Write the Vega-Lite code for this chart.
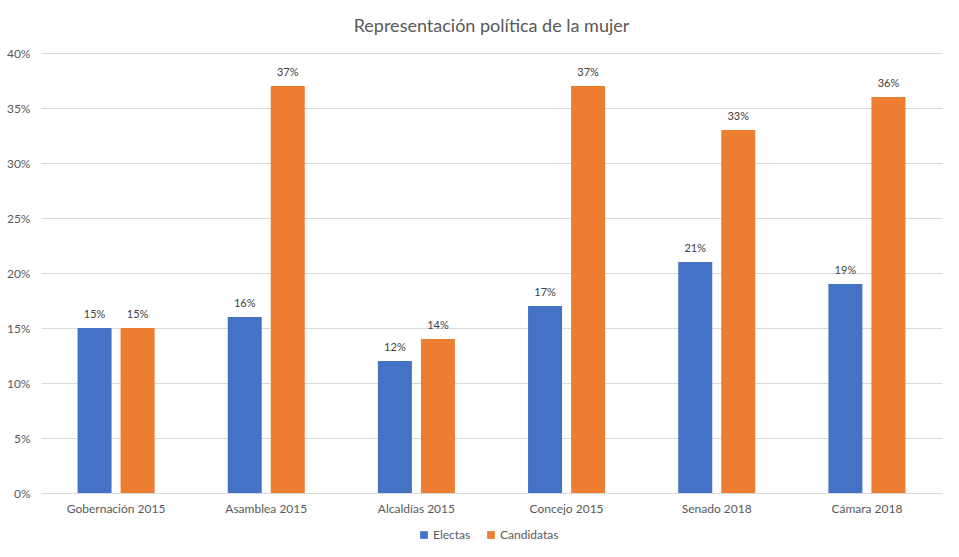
{
  "$schema": "https://vega.github.io/schema/vega-lite/v6.json",
  "width": 901,
  "height": 440,
  "autosize": "none",
  "padding": {"left": 41, "top": 53, "right": 17, "bottom": 64},
  "background": "white",
  "title": {
    "text": "Representación política de la mujer",
    "fontSize": 18,
    "font": "Lato",
    "fontWeight": "normal",
    "color": "#595959",
    "anchor": "middle",
    "frame": "group",
    "offset": 11
  },
  "config": {
    "font": "Lato",
    "view": {"stroke": null}
  },
  "data": {
    "values": [
      {"cat": "Gobernación 2015", "serie": "Electas", "v": 0.15},
      {"cat": "Gobernación 2015", "serie": "Candidatas", "v": 0.15},
      {"cat": "Asamblea 2015", "serie": "Electas", "v": 0.16},
      {"cat": "Asamblea 2015", "serie": "Candidatas", "v": 0.37},
      {"cat": "Alcaldías 2015", "serie": "Electas", "v": 0.12},
      {"cat": "Alcaldías 2015", "serie": "Candidatas", "v": 0.14},
      {"cat": "Concejo 2015", "serie": "Electas", "v": 0.17},
      {"cat": "Concejo 2015", "serie": "Candidatas", "v": 0.37},
      {"cat": "Senado 2018", "serie": "Electas", "v": 0.21},
      {"cat": "Senado 2018", "serie": "Candidatas", "v": 0.33},
      {"cat": "Cámara 2018", "serie": "Electas", "v": 0.19},
      {"cat": "Cámara 2018", "serie": "Candidatas", "v": 0.36}
    ]
  },
  "encoding": {
    "x": {
      "field": "cat", "type": "nominal", "sort": null, "title": null,
      "scale": {"paddingInner": 0.487, "paddingOuter": 0.2435},
      "axis": {"labelAngle": 0, "ticks": false, "domainColor": "#d9d9d9", "labelColor": "#595959", "labelFontSize": 12, "labelPadding": 10}
    },
    "xOffset": {
      "field": "serie", "type": "nominal", "sort": ["Electas", "Candidatas"],
      "scale": {"paddingInner": 0.21, "paddingOuter": 0}
    },
    "y": {
      "field": "v", "type": "quantitative", "title": null,
      "scale": {"domain": [0, 0.4]},
      "axis": {"format": ".0%", "values": [0, 0.05, 0.1, 0.15, 0.2, 0.25, 0.3, 0.35, 0.4], "labelOverlap": false, "ticks": false, "domain": false, "gridColor": "#d9d9d9", "labelColor": "#595959", "labelFontSize": 12, "labelPadding": 11}
    }
  },
  "layer": [
    {
      "mark": {"type": "bar"},
      "encoding": {
        "color": {
          "field": "serie", "type": "nominal", "sort": ["Electas", "Candidatas"],
          "scale": {"domain": ["Electas", "Candidatas"], "range": ["#4472C4", "#ED7D31"]},
          "legend": {"orient": "none", "legendX": 377, "legendY": 476, "title": null, "direction": "horizontal", "symbolType": "square", "symbolSize": 60, "symbolStrokeWidth": 0, "labelColor": "#595959", "labelFontSize": 12, "columnPadding": 14, "labelOffset": 3}
        }
      }
    },
    {
      "mark": {"type": "text", "baseline": "middle", "dy": -13, "fontSize": 11, "color": "#404040"},
      "encoding": {
        "text": {"field": "v", "type": "quantitative", "format": ".0%"}
      }
    }
  ]
}
